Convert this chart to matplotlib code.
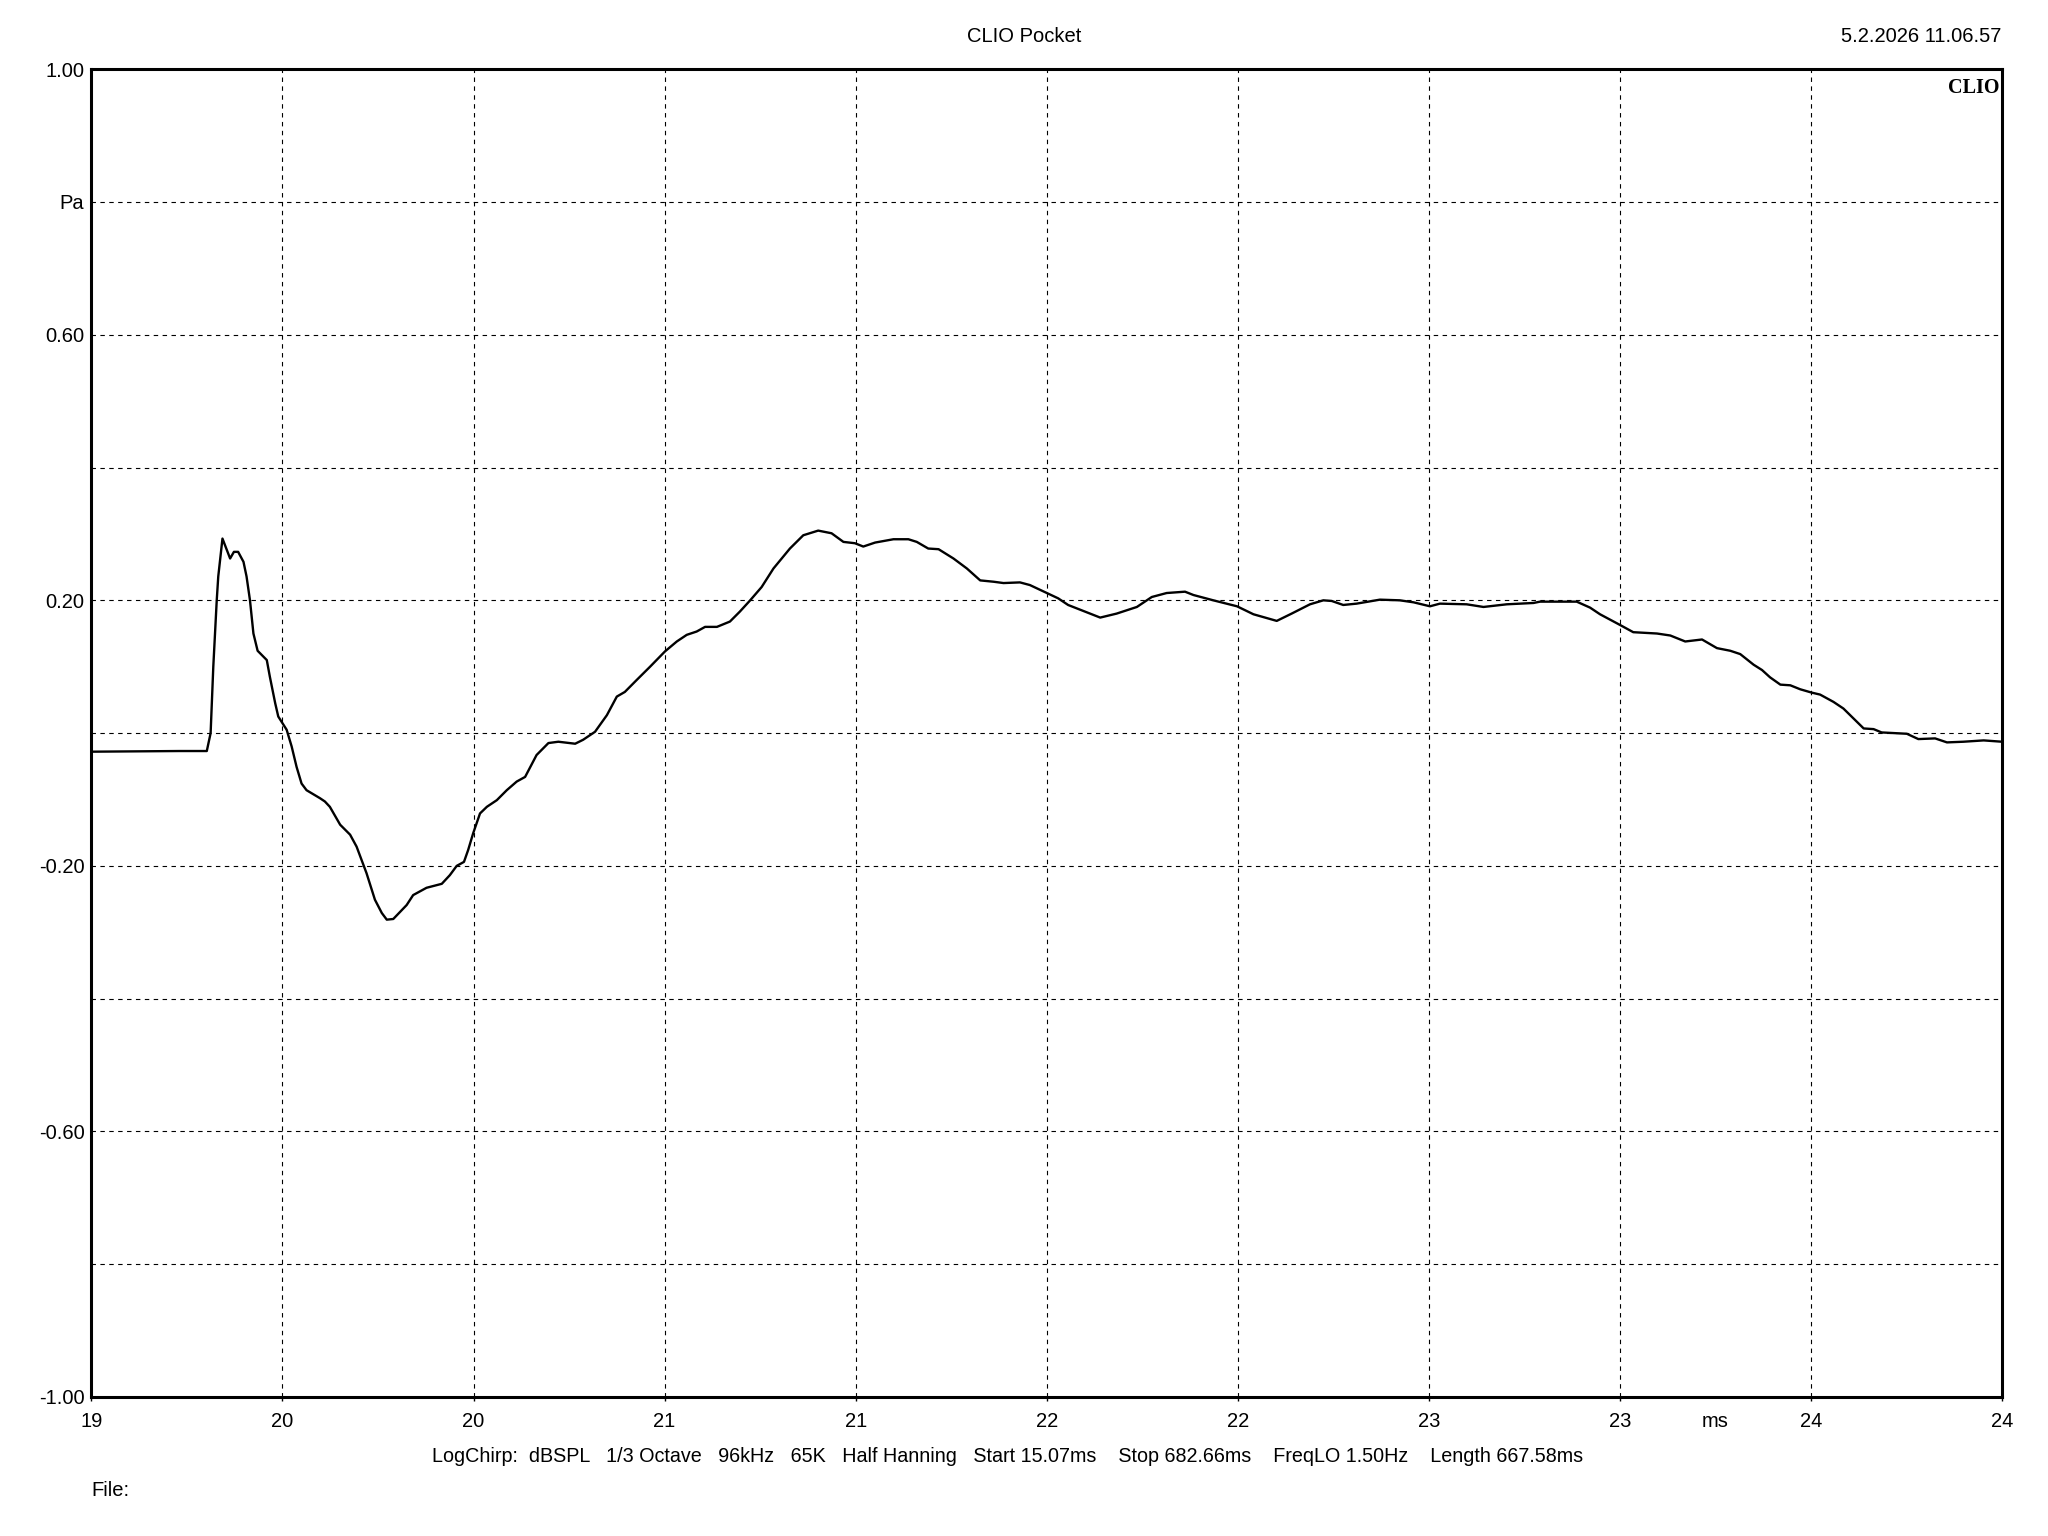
import numpy as np
import matplotlib
matplotlib.use("Agg")
import matplotlib.pyplot as plt

# impulse response (time in ms, pressure in Pa)
time_ms = [19.00, 19.23, 19.302, 19.312, 19.319, 19.328, 19.332, 19.343, 19.363, 19.373,
           19.384, 19.398, 19.406, 19.415, 19.424, 19.435, 19.459, 19.467, 19.481, 19.489,
           19.511, 19.524, 19.537, 19.550, 19.563, 19.598, 19.611, 19.624, 19.651, 19.677,
           19.694, 19.720, 19.742, 19.760, 19.773, 19.790, 19.825, 19.842, 19.877, 19.917,
           19.938, 19.956, 19.975, 19.986, 19.999, 20.017, 20.035, 20.061, 20.087, 20.113,
           20.135, 20.165, 20.196, 20.222, 20.266, 20.287, 20.318, 20.349, 20.375, 20.396,
           20.427, 20.462, 20.501, 20.532, 20.558, 20.584, 20.606, 20.637, 20.671, 20.697,
           20.724, 20.754, 20.785, 20.828, 20.863, 20.902, 20.937, 20.968, 20.998, 21.020,
           21.051, 21.099, 21.138, 21.160, 21.190, 21.217, 21.256, 21.291, 21.326, 21.361,
           21.387, 21.430, 21.456, 21.500, 21.530, 21.556, 21.596, 21.640, 21.683, 21.736,
           21.775, 21.814, 21.862, 21.884, 21.936, 21.998, 22.041, 22.102, 22.141, 22.189,
           22.224, 22.246, 22.276, 22.311, 22.372, 22.424, 22.460, 22.503, 22.529, 22.599,
           22.643, 22.704, 22.774, 22.791, 22.887, 22.922, 22.948, 23.000, 23.035, 23.097,
           23.132, 23.171, 23.215, 23.254, 23.289, 23.315, 23.350, 23.372, 23.393, 23.420,
           23.446, 23.472, 23.502, 23.524, 23.559, 23.585, 23.638, 23.664, 23.685, 23.751,
           23.781, 23.825, 23.856, 23.899, 23.952, 24.00]
pressure = [-0.028, -0.027, -0.027, 0.000, 0.100, 0.200, 0.236, 0.293, 0.263, 0.273,
            0.273, 0.258, 0.236, 0.200, 0.150, 0.124, 0.110, 0.085, 0.045, 0.025,
            0.005, -0.020, -0.051, -0.076, -0.086, -0.098, -0.103, -0.111, -0.138, -0.153,
            -0.171, -0.211, -0.251, -0.271, -0.281, -0.280, -0.259, -0.244, -0.233, -0.227,
            -0.214, -0.200, -0.194, -0.176, -0.151, -0.121, -0.111, -0.101, -0.086, -0.073,
            -0.066, -0.033, -0.015, -0.013, -0.016, -0.010, 0.002, 0.027, 0.055, 0.062,
            0.080, 0.100, 0.123, 0.138, 0.148, 0.153, 0.160, 0.160, 0.168, 0.183,
            0.200, 0.220, 0.248, 0.278, 0.298, 0.305, 0.301, 0.288, 0.286, 0.281,
            0.287, 0.292, 0.292, 0.288, 0.278, 0.277, 0.263, 0.248, 0.230, 0.228,
            0.226, 0.227, 0.223, 0.211, 0.203, 0.193, 0.184, 0.174, 0.180, 0.190,
            0.205, 0.211, 0.213, 0.208, 0.200, 0.191, 0.179, 0.169, 0.180, 0.194,
            0.200, 0.199, 0.193, 0.195, 0.201, 0.200, 0.197, 0.191, 0.195, 0.194,
            0.190, 0.194, 0.196, 0.198, 0.198, 0.189, 0.179, 0.163, 0.152, 0.150,
            0.147, 0.138, 0.141, 0.128, 0.124, 0.119, 0.103, 0.095, 0.084, 0.073,
            0.072, 0.066, 0.061, 0.058, 0.047, 0.037, 0.007, 0.006, 0.001, -0.001,
            -0.009, -0.008, -0.014, -0.013, -0.011, -0.013]

x_ticks = [19, 19.5, 20, 20.5, 21, 21.5, 22, 22.5, 23, 23.5, 24]
x_labels = ["19", "20", "20", "21", "21", "22", "22", "23", "23", "24", "24"]
y_ticks = [1.0, 0.8, 0.6, 0.4, 0.2, 0.0, -0.2, -0.4, -0.6, -0.8, -1.0]
y_labels = ["1.00", "Pa", "0.60", "", "0.20", "", "-0.20", "", "-0.60", "", "-1.00"]

title = "CLIO Pocket"
stamp = "5.2.2026 11.06.57"
info = ("LogChirp:  dBSPL   1/3 Octave   96kHz   65K   Half Hanning   Start 15.07ms    "
        "Stop 682.66ms    FreqLO 1.50Hz    Length 667.58ms")

plt.rcParams['font.family'] = ['Liberation Sans', 'DejaVu Sans']
fs = 14.5

fig = plt.figure(figsize=(20.48, 15.36), dpi=100)
ax = fig.add_axes([91.4 / 2048, 1 - 1397 / 1536, (2002 - 91.4) / 2048, (1397 - 69.2) / 1536])

ax.plot(time_ms, pressure, color="black", lw=1.7, zorder=3)

ax.set_xlim(19, 24)
ax.set_ylim(-1, 1)
ax.set_xticks(x_ticks)
ax.set_xticklabels(x_labels, fontsize=fs)
ax.set_yticks(y_ticks)
ax.set_yticklabels(y_labels, fontsize=fs)
ax.tick_params(axis="x", direction="out", length=3, width=1, pad=7.5)
ax.tick_params(axis="y", length=0, pad=5)
ax.grid(True, color="black", lw=0.8, linestyle=(0, (4, 4)))
for s in ax.spines.values():
    s.set_linewidth(2.2)

# 'ms' unit sits between the 23 and 24 labels
ax.annotate("ms", xy=(23.25, 0), xycoords=("data", "axes fraction"),
            xytext=(0, -17.5), textcoords="offset points", ha="center", va="center",
            fontsize=fs)

ax.text(0.9985, 0.993, "CLIO", transform=ax.transAxes, ha="right", va="top",
        fontsize=fs, fontweight="bold", family="Liberation Serif")

fig.text(0.5, 1 - 36 / 1536, title, ha="center", va="center", fontsize=fs)
fig.text(2001 / 2048, 1 - 36 / 1536, stamp, ha="right", va="center", fontsize=fs)
fig.text(432 / 2048, 1 - 1457 / 1536, info, ha="left", va="center", fontsize=14.2)
fig.text(91 / 2048, 1 - 1491 / 1536, "File:", ha="left", va="center", fontsize=fs)

fig.savefig("out.png", dpi=100, facecolor="white")
